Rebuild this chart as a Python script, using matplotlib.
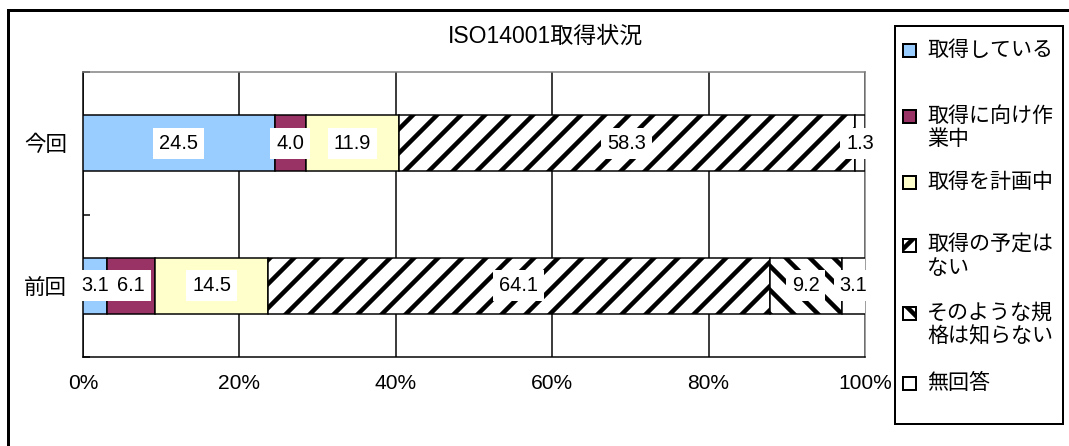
import matplotlib
matplotlib.use('Agg')
import matplotlib.pyplot as plt
import numpy as np
from matplotlib.patches import Rectangle
from matplotlib.lines import Line2D

plt.rcParams['font.family'] = ['Liberation Sans', 'Noto Sans CJK JP']
plt.rcParams['hatch.linewidth'] = 4.5

title = 'ISO14001取得状況'
rounds = ['今回', '前回']
answers = ['取得している', '取得に向け作\n業中', '取得を計画中',
           '取得の予定は\nない', 'そのような規\n格は知らない', '無回答']
values_now = [24.5, 4.0, 11.9, 58.3, 0.0, 1.3]
values_prev = [3.1, 6.1, 14.5, 64.1, 9.2, 3.1]
pct_ticks = [0, 20, 40, 60, 80, 100]

colors = ['#99ccff', '#993366', '#ffffcc', 'white', 'white', 'white']
hatches = [None, None, None, '/', '\\', None]

# pixel layout (dpi 72 -> 1pt == 1px)
W, H = 1069, 446
fig = plt.figure(figsize=(W / 72, H / 72), dpi=72)
ax = fig.add_axes([83 / W, 1 - 357 / H, (865 - 83) / W, (357 - 72) / H])

data = np.array([values_now, values_prev])
ypos = [1.5, 0.5]
left = np.zeros(len(rounds))
for i, name in enumerate(answers):
    w = data[:, i]
    bars = ax.barh(ypos, w, left=left, height=0.39, color=colors[i],
                   edgecolor='black', linewidth=1.5, hatch=hatches[i], zorder=3)
    for b, v in zip(bars, w):
        if v > 0:
            ax.text(b.get_x() + v / 2, b.get_y() + b.get_height() / 2, f'{v:.1f}',
                    ha='center', va='center', fontsize=20, zorder=6, clip_on=False,
                    bbox=dict(boxstyle='square,pad=0.3', fc='white', ec='none'))
    left += w

ax.set_xlim(0, 100)
ax.set_ylim(0, 2)
ax.set_xticks(pct_ticks)
ax.set_xticklabels([f'{t}%' for t in pct_ticks])
ax.tick_params(axis='x', length=0, labelsize=21, pad=17)
ax.xaxis.grid(True, color='black', lw=1.5)
ax.set_axisbelow(True)

ax.set_yticks([0, 1, 2])
ax.set_yticklabels([])
ax.tick_params(axis='y', which='major', direction='in', length=7, width=1.5)
ax.set_yticks(ypos, minor=True)
ax.set_yticklabels(rounds, minor=True)
ax.tick_params(axis='y', which='minor', length=0, labelsize=21.5, pad=16)

for s in ['left', 'bottom']:
    ax.spines[s].set_color('black')
    ax.spines[s].set_linewidth(1.5)
for s in ['top', 'right']:
    ax.spines[s].set_color('#808080')
    ax.spines[s].set_linewidth(1.5)

# chart border (only top and left visible)
fig.add_artist(Line2D([8 / W, 8 / W], [0, 1 - 10 / H], color='black', lw=3))
fig.add_artist(Line2D([8 / W, 1], [1 - 10 / H, 1 - 10 / H], color='black', lw=3))

fig.text(545 / W, 1 - 36 / H, title, ha='center', va='center', fontsize=23)

# legend box
fig.add_artist(Rectangle((895 / W, 1 - 424 / H), (1063 - 895) / W, (424 - 26) / H,
                         transform=fig.transFigure, fill=False, ec='black', lw=2))
leg_y = [50, 116, 182, 245, 313, 383]
for i, name in enumerate(answers):
    y0 = leg_y[i]
    fig.add_artist(Rectangle((903 / W, 1 - (y0 + 6.5) / H), 13 / W, 13 / H,
                             transform=fig.transFigure, fc=colors[i], ec='black',
                             lw=2, hatch=hatches[i]))
    for k, line in enumerate(name.split('\n')):
        fig.text(927 / W, 1 - (y0 + k * 23) / H, line, ha='left', va='center',
                 fontsize=21)

fig.savefig('out.png', dpi=72)
